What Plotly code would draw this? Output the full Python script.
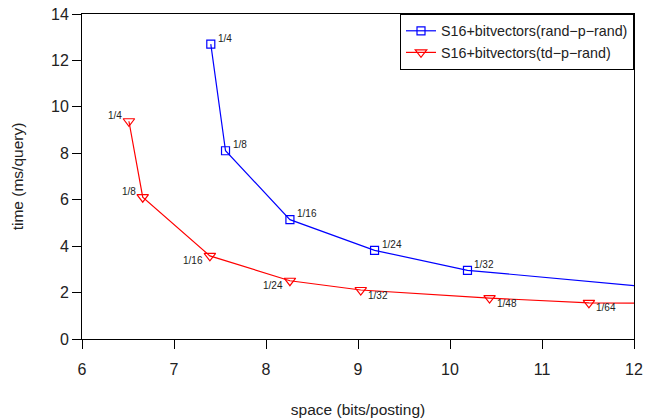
import plotly.graph_objects as go

# Data
blue_name = "S16+bitvectors(rand\u2212p\u2212rand)"
blue_x = [7.40, 7.56, 8.26, 9.18, 10.19, 12.30]
blue_y = [12.70, 8.11, 5.14, 3.82, 2.96, 2.19]
blue_labels = ["1/4", "1/8", "1/16", "1/24", "1/32", ""]

red_name = "S16+bitvectors(td\u2212p\u2212rand)"
red_x = [6.51, 6.66, 7.39, 8.26, 9.03, 10.43, 11.51, 13.20]
red_y = [9.38, 6.11, 3.58, 2.51, 2.11, 1.76, 1.56, 1.50]
red_labels = ["1/4", "1/8", "1/16", "1/24", "1/32", "1/48", "1/64", ""]
red_label_side = ["upleft", "upleft", "downleft", "downleft",
                  "downright", "downright", "downright", "downright"]

x_ticks = [6, 7, 8, 9, 10, 11, 12]
y_ticks = [0, 2, 4, 6, 8, 10, 12, 14]

FONT = "Liberation Sans, Arial, sans-serif"
TXT = "#222222"

fig = go.Figure()
fig.add_trace(go.Scatter(
    x=blue_x, y=blue_y, mode="lines+markers", name=blue_name,
    line=dict(color="#0000FF", width=1.2),
    marker=dict(symbol="square-open", size=8, color="#0000FF", line=dict(width=1.2)),
    cliponaxis=True,
))
fig.add_trace(go.Scatter(
    x=red_x, y=red_y, mode="lines+markers", name=red_name,
    line=dict(color="#FF0000", width=1.2),
    marker=dict(symbol="triangle-down-open", size=10, color="#FF0000", line=dict(width=1.2)),
    cliponaxis=True,
))

side_style = {
    "upright": dict(xanchor="left", yanchor="middle", xshift=5, yshift=6),
    "upleft": dict(xanchor="right", yanchor="middle", xshift=-5, yshift=6),
    "downleft": dict(xanchor="right", yanchor="middle", xshift=-5, yshift=-5),
    "downright": dict(xanchor="left", yanchor="middle", xshift=5, yshift=-5),
}

for xs, ys, labs, sides in [
    (blue_x, blue_y, blue_labels, ["upright"] * len(blue_x)),
    (red_x, red_y, red_labels, red_label_side),
]:
    for xv, yv, lab, side in zip(xs, ys, labs, sides):
        if not lab:
            continue
        fig.add_annotation(x=xv, y=yv, text=lab, showarrow=False,
                           font=dict(size=10, color=TXT, family=FONT),
                           **side_style[side])

axis_common = dict(
    showgrid=False, zeroline=False, showline=True, linecolor="black", linewidth=1,
    mirror=True, ticks="outside", ticklen=9, tickcolor="black", tickwidth=1,
    tickfont=dict(size=16, color=TXT, family=FONT), automargin=False,
    ticklabeloverflow="allow",
)

fig.update_layout(
    width=655, height=418,
    margin=dict(l=82, r=21, t=14, b=79),
    paper_bgcolor="white", plot_bgcolor="white",
    font=dict(family=FONT, color=TXT),
    xaxis=dict(range=[6, 12], tickvals=x_ticks, ticklabelstandoff=7,
               title=dict(text="space (bits/posting)", font=dict(size=15.5), standoff=26),
               **axis_common),
    yaxis=dict(range=[0, 14], tickvals=y_ticks, ticklabelstandoff=0,
               title=dict(text="time (ms/query)", font=dict(size=15.5), standoff=23),
               **axis_common),
    legend=dict(x=1, y=1, xanchor="right", yanchor="top",
                bordercolor="black", borderwidth=1, bgcolor="white",
                font=dict(size=14.3, color=TXT, family=FONT),
                tracegroupgap=0),
    showlegend=True,
)

# remove the page's default 8px body margin so the figure fills the window exactly
fig.write_html("out.html", config={"displayModeBar": False},
               post_script="document.body.style.margin='0';")
